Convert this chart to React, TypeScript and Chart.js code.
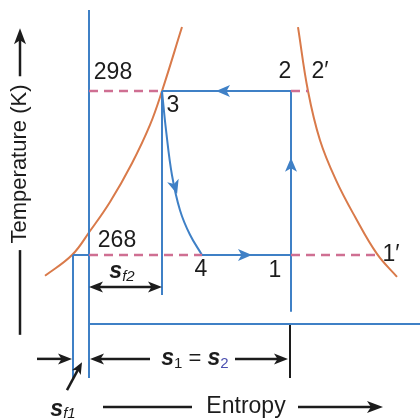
import { useEffect, useRef } from 'react';
import { Chart, registerables } from 'chart.js';

Chart.register(...registerables);

// ---- data (entropy s in arbitrary units, temperature T in K) ----
const T_HIGH = 298;
const T_LOW = 268;
const S_F1 = -0.8;
const S_AXIS = 0;
const S_3 = 3.65;
const S_4 = 5.65;
const S_1 = 10.1;
const S_2P = 10.95;
const S_1P = 14.4;
const T_TOP = 312.8;
const T_BOTTOM = 245.5;
const T_BASE = 255.4;
const S_RIGHT = 16.6;
const T_S3_END = 260.7;
const T_S1_END = 257.6;

// saturated liquid line
const liquidS = [-2.2, -0.85, 0.05, 1.05, 2.15, 3.05, 3.65, 4.65];
const liquidT = [264.2, 268, 272.4, 277.7, 284.8, 291.8, 298, 309.7];
// saturated vapour line
const vaporS = [10.45, 10.95, 11.55, 12.35, 13.3, 14.4, 15.4];
const vaporT = [309.7, 298, 289.0, 281.7, 275.0, 268.2, 264.0];
// throttling 3 -> 4
const expS = [3.65, 3.85, 4.15, 4.55, 5.05, 5.65];
const expT = [298, 290.9, 282.6, 276.2, 271.7, 268];

const tickLabels = ['298', '268'];

const C = {
  blue: '#3f80c6',
  orange: '#d97a4a',
  pink: '#cf6f92',
  ink: '#1c1c1c',
  sub2: '#4b4fb0',
};
const FONT = '"Liberation Sans", Arial, Helvetica, sans-serif';

const zip = (s: number[], t: number[]) => s.map((v, i) => ({ x: v, y: t[i] }));
const seg = (s1: number, t1: number, s2: number, t2: number) => [
  { x: s1, y: t1 },
  { x: s2, y: t2 },
];

function line(data: any[], color: string, extra: any = {}) {
  return {
    data,
    showLine: true,
    borderColor: color,
    backgroundColor: color,
    borderWidth: 2,
    pointRadius: 0,
    pointHoverRadius: 0,
    fill: false,
    clip: false,
    tension: 0,
    ...extra,
  };
}

function head(ctx: CanvasRenderingContext2D, tx: number, ty: number, ang: number, len: number, w: number, color: string) {
  const dx = Math.cos(ang), dy = Math.sin(ang);
  const px = -dy, py = dx;
  const bx = tx - dx * len, by = ty - dy * len;
  const nx = tx - dx * len * 0.75, ny = ty - dy * len * 0.75;
  ctx.save();
  ctx.fillStyle = color;
  ctx.beginPath();
  ctx.moveTo(tx, ty);
  ctx.lineTo(bx + px * w / 2, by + py * w / 2);
  ctx.lineTo(nx, ny);
  ctx.lineTo(bx - px * w / 2, by - py * w / 2);
  ctx.closePath();
  ctx.fill();
  ctx.restore();
}

function arrowLine(ctx: CanvasRenderingContext2D, x1: number, y1: number, x2: number, y2: number, color: string, lw: number, len: number, w: number, both = false) {
  const ang = Math.atan2(y2 - y1, x2 - x1);
  ctx.save();
  ctx.strokeStyle = color;
  ctx.lineWidth = lw;
  ctx.beginPath();
  const sx = both ? x1 + Math.cos(ang) * len * 0.7 : x1;
  const sy = both ? y1 + Math.sin(ang) * len * 0.7 : y1;
  ctx.moveTo(sx, sy);
  ctx.lineTo(x2 - Math.cos(ang) * len * 0.7, y2 - Math.sin(ang) * len * 0.7);
  ctx.stroke();
  ctx.restore();
  head(ctx, x2, y2, ang, len, w, color);
  if (both) head(ctx, x1, y1, ang + Math.PI, len, w, color);
}

type Part = { t: string; size: number; style?: string; dy?: number; color?: string };
function rich(ctx: CanvasRenderingContext2D, cx: number, cy: number, parts: Part[]) {
  ctx.save();
  ctx.textBaseline = 'middle';
  ctx.textAlign = 'left';
  let total = 0;
  const widths = parts.map((p) => {
    ctx.font = `${p.style || ''} ${p.size}px ${FONT}`;
    const w = ctx.measureText(p.t).width;
    total += w;
    return w;
  });
  let x = cx - total / 2;
  parts.forEach((p, i) => {
    ctx.font = `${p.style || ''} ${p.size}px ${FONT}`;
    ctx.fillStyle = p.color || C.ink;
    ctx.fillText(p.t, x, cy + (p.dy || 0));
    x += widths[i];
  });
  ctx.restore();
}

const annotate = {
  id: 'annotate',
  afterDatasetsDraw(chart: any) {
    const ctx: CanvasRenderingContext2D = chart.ctx;
    const xs = chart.scales.x, ys = chart.scales.y;
    const X = (s: number) => xs.getPixelForValue(s);
    const Y = (t: number) => ys.getPixelForValue(t);

    // flow arrows on the cycle
    const flow = [
      { s: 6.7, t: T_HIGH, ang: Math.PI },
      { s: S_1, t: 284.5, ang: -Math.PI / 2 },
      { s: 7.8, t: T_LOW, ang: 0 },
      { s: 4.3, t: 280.4, ang: 1.27 },
    ];
    flow.forEach((a) => {
      const len = 14, w = 12;
      const tx = X(a.s) + Math.cos(a.ang) * len / 2;
      const ty = Y(a.t) + Math.sin(a.ang) * len / 2;
      head(ctx, tx, ty, a.ang, len, w, C.blue);
    });

    // tick labels
    ctx.save();
    ctx.fillStyle = C.ink;
    ctx.textBaseline = 'middle';
    ctx.textAlign = 'center';
    ctx.font = `23px ${FONT}`;
    ctx.fillText(tickLabels[0], X(1.2), Y(301.3));
    ctx.fillText(tickLabels[1], X(1.4), Y(270.7));
    // state labels
    ctx.fillText('3', X(4.2), Y(295.3));
    ctx.fillText('2', X(9.8), Y(301.5));
    ctx.fillText('2\u2032', X(11.55), Y(301.5));
    ctx.fillText('4', X(5.6), Y(265.3));
    ctx.fillText('1', X(9.3), Y(265.1));
    ctx.fillText('1\u2032', X(15.1), Y(268));
    ctx.restore();

    // s_f2 double arrow and label
    arrowLine(ctx, X(S_AXIS), Y(262.15), X(S_3), Y(262.15), C.ink, 2.5, 14, 11, true);
    rich(ctx, X(1.65), Y(264.9), [
      { t: 's', size: 23, style: 'italic bold' },
      { t: 'f2', size: 15, style: 'italic', dy: 5 },
    ]);

    // bottom arrows
    const tRow = 249.0;
    arrowLine(ctx, X(-2.6), Y(tRow), X(-0.85), Y(tRow), C.ink, 2.5, 14, 11);
    arrowLine(ctx, X(3.05), Y(tRow), X(0.05), Y(tRow), C.ink, 2.5, 14, 11);
    arrowLine(ctx, X(7.3), Y(tRow), X(9.95), Y(tRow), C.ink, 2.5, 14, 11);
    rich(ctx, X(5.3), Y(tRow), [
      { t: 's', size: 23, style: 'italic bold' },
      { t: '1', size: 15, dy: 5 },
      { t: ' = ', size: 22 },
      { t: 's', size: 23, style: 'italic bold' },
      { t: '2', size: 15, dy: 5, color: C.sub2 },
    ]);
    // s_f1 pointer
    arrowLine(ctx, X(-1.1), Y(243.3), X(-0.35), Y(248.4), C.ink, 2.5, 12, 10);
    rich(ctx, X(-1.3), Y(239.8), [
      { t: 's', size: 23, style: 'italic bold' },
      { t: 'f1', size: 15, style: 'italic', dy: 5 },
    ]);

    // x title
    const tEnt = 240.2;
    ctx.save();
    ctx.strokeStyle = C.ink;
    ctx.lineWidth = 2.5;
    ctx.beginPath();
    ctx.moveTo(X(0.7), Y(tEnt));
    ctx.lineTo(X(5.15), Y(tEnt));
    ctx.stroke();
    ctx.restore();
    arrowLine(ctx, X(10.45), Y(tEnt), X(14.7), Y(tEnt), C.ink, 2.5, 16, 12);
    ctx.save();
    ctx.fillStyle = C.ink;
    ctx.font = `23px ${FONT}`;
    ctx.textAlign = 'center';
    ctx.textBaseline = 'middle';
    ctx.fillText('Entropy', X(7.85), Y(tEnt));
    ctx.restore();

    // y title
    const sY = -3.45;
    ctx.save();
    ctx.strokeStyle = C.ink;
    ctx.lineWidth = 2.5;
    ctx.beginPath();
    ctx.moveTo(X(sY), Y(268.9));
    ctx.lineTo(X(sY), Y(253.4));
    ctx.stroke();
    ctx.restore();
    arrowLine(ctx, X(sY), Y(300.7), X(sY), Y(309.5), C.ink, 2.5, 16, 12);
    ctx.save();
    ctx.translate(X(sY), Y(284.65));
    ctx.rotate(-Math.PI / 2);
    ctx.fillStyle = C.ink;
    ctx.font = `22px ${FONT}`;
    ctx.textAlign = 'center';
    ctx.textBaseline = 'middle';
    ctx.fillText('Temperature (K)', 0, 0);
    ctx.restore();
  },
};

export default function App() {
  const ref = useRef<HTMLCanvasElement>(null);
  useEffect(() => {
    if (!ref.current) return;
    const dash = { borderDash: [9, 6], borderWidth: 2.5 };
    const curve = { tension: 0.4 };
    const chart = new Chart(ref.current, {
      type: 'scatter',
      data: {
        datasets: [
          line(seg(S_F1, T_LOW, S_AXIS, T_LOW), C.blue),
          line(seg(S_AXIS, T_HIGH, S_3, T_HIGH), C.pink, dash),
          line(seg(S_AXIS, T_LOW, S_4, T_LOW), C.pink, dash),
          line(seg(S_1, T_HIGH, S_2P, T_HIGH), C.pink, dash),
          line(seg(S_1, T_LOW, S_1P, T_LOW), C.pink, dash),
          line(seg(S_AXIS, T_TOP, S_AXIS, T_BOTTOM), C.blue),
          line(seg(S_AXIS, T_BASE, S_RIGHT, T_BASE), C.blue),
          line(seg(S_F1, T_LOW, S_F1, T_BOTTOM), C.blue),
          line(seg(S_3, T_HIGH, S_3, T_S3_END), C.blue),
          line(seg(S_1, T_HIGH, S_1, T_S1_END), C.blue),
          line(seg(S_3, T_HIGH, S_1, T_HIGH), C.blue),
          line(seg(S_4, T_LOW, S_1, T_LOW), C.blue),
          line(zip(expS, expT), C.blue, curve),
          line(zip(liquidS, liquidT), C.orange, curve),
          line(zip(vaporS, vaporT), C.orange, curve),
          line(seg(10.05, T_BASE, 10.05, T_BOTTOM), C.ink),
        ] as any,
      },
      options: {
        animation: false,
        responsive: false,
        events: [],
        layout: { padding: 0 },
        plugins: { legend: { display: false }, tooltip: { enabled: false } },
        scales: {
          x: { type: 'linear', display: false, min: -4.45, max: 16.55 },
          y: { type: 'linear', display: false, min: 237.82, max: 314.65 },
        },
      },
      plugins: [annotate],
    });
    return () => chart.destroy();
  }, []);
  return (
    <div style={{ position: 'fixed', left: 0, top: 0, width: 420, height: 420, background: '#fff' }}>
      <canvas ref={ref} width={420} height={420} style={{ display: 'block' }} />
    </div>
  );
}
